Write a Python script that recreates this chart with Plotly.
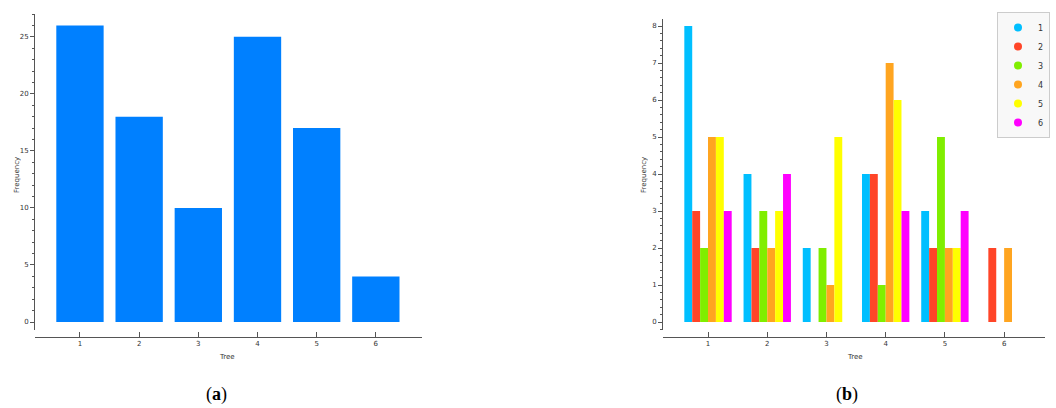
import plotly.graph_objects as go

W, H = 1056, 408

# ---------------- data ----------------
trees = [1, 2, 3, 4, 5, 6]
total_freq = [26, 18, 10, 25, 17, 4]

series_names = ["1", "2", "3", "4", "5", "6"]
series_colors = ["#00BFFF", "#FF4528", "#80EE00", "#FFA520", "#FFFF00", "#FF00FF"]
s1 = [8, 4, 2, 4, 3, 0]
s2 = [3, 2, 0, 4, 2, 2]
s3 = [2, 3, 2, 1, 5, 0]
s4 = [5, 2, 1, 7, 2, 2]
s5 = [5, 3, 5, 6, 2, 0]
s6 = [3, 4, 0, 3, 3, 0]
series_values = [s1, s2, s3, s4, s5, s6]

FONT = "DejaVu Sans"
AXC = "#555555"
TXC = "#333333"


def px_x(p):
    return p / W


def px_y(p):
    return (H - p) / H


fig = go.Figure()

# left chart
fig.add_trace(go.Bar(x=trees, y=total_freq, marker=dict(color="#0080FF", line=dict(width=0)),
                     showlegend=False, xaxis="x", yaxis="y"))

# right chart
for name, col, vals in zip(series_names, series_colors, series_values):
    fig.add_trace(go.Bar(x=trees, y=vals, name=name, marker=dict(color=col, line=dict(width=0)),
                         showlegend=False, xaxis="x2", yaxis="y2", offsetgroup=name))
# legend entries (circle markers)
for name, col in zip(series_names, series_colors):
    fig.add_trace(go.Scatter(x=[None], y=[None], mode="markers", name=name,
                             marker=dict(color=col, size=8, symbol="circle"),
                             xaxis="x2", yaxis="y2", showlegend=True))

common_x = dict(showgrid=False, zeroline=False, showline=True, linecolor=AXC, linewidth=1,
                ticks="inside", ticklen=5, tickcolor=AXC, tickfont=dict(family=FONT, size=7, color=TXC),
                tickmode="array", tickvals=trees, ticktext=[str(t) for t in trees],
                anchor="free", position=(H - 337) / H)
common_y = dict(showgrid=False, zeroline=False, showline=True, linecolor=AXC, linewidth=1,
                ticks="outside", ticklen=4, tickcolor=AXC, tickfont=dict(family=FONT, size=7, color=TXC))

fig.update_layout(
    width=W, height=H, margin=dict(l=0, r=0, t=0, b=0),
    paper_bgcolor="white", plot_bgcolor="white",
    barmode="group", bargap=0.2, bargroupgap=0,
    font=dict(family=FONT, size=7, color=TXC),
    xaxis=dict(domain=[px_x(35), px_x(422)], range=[0.24, 6.78], **common_x),
    yaxis=dict(domain=[px_y(330), px_y(14)], range=[-0.7, 27.0], tickvals=[0, 5, 10, 15, 20, 25],
               minor=dict(dtick=1, ticks="outside", ticklen=2, tickcolor=AXC), anchor="x", **common_y),
    xaxis2=dict(domain=[px_x(663), px_x(1045)], range=[0.24, 6.69], **common_x),
    yaxis2=dict(domain=[px_y(330), px_y(19)], range=[-0.216, 8.19], tickvals=list(range(9)),
                minor=dict(dtick=0.2, ticks="outside", ticklen=2, tickcolor=AXC), anchor="x2", **common_y),
    legend=dict(x=px_x(1050), xanchor="right", y=px_y(12), yanchor="top",
                bgcolor="#F8F8F8", bordercolor="#CCCCCC", borderwidth=1,
                font=dict(family=FONT, size=8, color=TXC), itemwidth=30),
)

ann = [
    dict(text="Frequency", x=px_x(17), y=px_y(175), textangle=-90),
    dict(text="Tree", x=px_x(227), y=px_y(357)),
    dict(text="Frequency", x=px_x(644), y=px_y(175), textangle=-90),
    dict(text="Tree", x=px_x(855), y=px_y(357)),
]
for a in ann:
    fig.add_annotation(xref="paper", yref="paper", showarrow=False, xanchor="center", yanchor="middle",
                       font=dict(family=FONT, size=7, color=TXC), **a)

fig.add_annotation(text="(<b>a</b>)", x=px_x(216), y=px_y(394), xref="paper", yref="paper", showarrow=False,
                   xanchor="center", yanchor="middle", font=dict(family="Liberation Serif", size=18, color="black"))
fig.add_annotation(text="(<b>b</b>)", x=px_x(847), y=px_y(394), xref="paper", yref="paper", showarrow=False,
                   xanchor="center", yanchor="middle", font=dict(family="Liberation Serif", size=18, color="black"))

fig.write_html("out.html", config={"displayModeBar": False},
               post_script="document.body.style.margin='0';document.body.style.overflow='hidden';")
